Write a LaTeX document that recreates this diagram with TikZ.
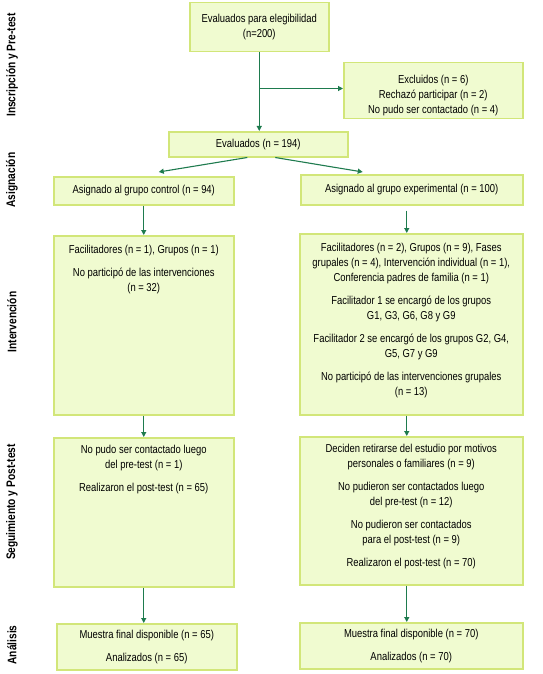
\documentclass[tikz,border=0pt]{standalone}
\usepackage{fontspec}
\setmainfont{Liberation Sans}[FakeStretch=0.82]
\usetikzlibrary{arrows.meta}

\definecolor{boxfill}{HTML}{F0FBD0}
\definecolor{boxline}{HTML}{D2E679}
\definecolor{flowgreen}{HTML}{1E7B4E}

% text of a box: centred, or hung from the top
\newcommand{\midtext}[3]{\parbox[c][#2][c]{#1}{\centering #3}}
\newcommand{\toptext}[4]{\parbox[c][#2][t]{#1}{\centering\vspace*{#3}#4}}
\newcommand{\nextpar}{\par\vspace{8pt}}

\tikzset{
  box/.style={draw=boxline, fill=boxfill, line width=1.5pt, inner sep=0pt, anchor=north west},
  flow/.style={draw=flowgreen, line width=1.1pt, -{Triangle[length=5pt,width=5pt]}},
  phase/.style={rotate=90, font=\fontsize{12.4}{14}\selectfont\bfseries}
}

\begin{document}
\begin{tikzpicture}[x=1pt, y=-1pt, font=\fontsize{11.5}{15}\selectfont]
		\useasboundingbox (0,0) rectangle (542,674);

		% enrolment
		\node[box] (eleg) at (189,2)
		{\midtext{139pt}{49pt}{Evaluados para elegibilidad\\(n=200)}};

		\node[box] (excl) at (343,62)
		{\toptext{179pt}{56pt}{12.5pt}{Excluidos (n = 6)\\Rechazó participar (n = 2)\\No pudo ser contactado (n = 4)}};

		\node[box] (eval) at (168,131)
		{\midtext{179pt}{25pt}{Evaluados (n = 194)}};

		% allocation
		\node[box] (ctrl_a) at (53,176)
		{\midtext{180pt}{28pt}{Asignado al grupo control (n = 94)}};

		\node[box] (exp_a) at (300,174)
		{\midtext{222pt}{30pt}{Asignado al grupo experimental (n = 100)}};

		% intervention
		\node[box] (ctrl_i) at (53,235)
		{\toptext{180pt}{179pt}{9.5pt}{Facilitadores (n = 1), Grupos (n = 1)\nextpar
		No participó de las intervenciones\\(n = 32)}};

		\node[box] (exp_i) at (299,233)
		{\toptext{223pt}{181pt}{9.5pt}{Facilitadores (n = 2), Grupos (n = 9), Fases\\
		grupales (n = 4), Intervención individual (n = 1),\\
		Conferencia padres de familia (n = 1)\nextpar
		Facilitador 1 se encargó de los grupos\\G1, G3, G6, G8 y G9\nextpar
		Facilitador 2 se encargó de los grupos G2, G4,\\G5, G7 y G9\nextpar
		No participó de las intervenciones grupales\\(n = 13)}};

		% follow-up
		\node[box] (ctrl_s) at (53,437)
		{\toptext{180pt}{149pt}{7pt}{No pudo ser contactado luego\\del pre-test (n = 1)\nextpar
		Realizaron el post-test (n = 65)}};

		\node[box] (exp_s) at (299,436)
		{\toptext{223pt}{148pt}{7pt}{Deciden retirarse del estudio por motivos\\
		personales o familiares (n = 9)\nextpar
		No pudieron ser contactados luego\\del pre-test (n = 12)\nextpar
		No pudieron ser contactados\\para el post-test (n = 9)\nextpar
		Realizaron el post-test (n = 70)}};

		% analysis
		\node[box] (ctrl_an) at (56,623)
		{\midtext{180pt}{46pt}{Muestra final disponible (n = 65)\nextpar Analizados (n = 65)}};

		\node[box] (exp_an) at (299,622)
		{\midtext{223pt}{46pt}{Muestra final disponible (n = 70)\nextpar Analizados (n = 70)}};

		% phases
		\node[phase] (ph_ins) at (12,65) {Inscripción y Pre-test};
		\node[phase] (ph_asi) at (12,180) {Asignación};
		\node[phase] (ph_int) at (12,322) {Intervención};
		\node[phase] (ph_seg) at (12,502) {Seguimiento y Post-test};
		\node[phase] (ph_ana) at (12,645) {Análisis};

		% connectors
		\path (eleg.south) ++(0,36) coordinate (split);
		\draw[flow] (eleg.south) -- (eleg.south |- eval.north);
		\draw[flow] (split) -- (split -| excl.west);

		\draw[flow] ([xshift=-11pt]eval.south) -- ([xshift=15pt,yshift=4pt]ctrl_a.north);
		\draw[flow] ([xshift=17pt]eval.south) -- ([xshift=-49pt,yshift=2pt]exp_a.north);

		\draw[flow] (ctrl_a) -- (ctrl_i);
		\draw[flow] ([xshift=-5pt,yshift=-5pt]exp_a.south) -- ([xshift=-5pt]exp_a.south |- exp_i.north);

		\draw[flow] (ctrl_i) -- (ctrl_s);
		\draw[flow] ([xshift=-4.5pt]exp_i.south) -- ([xshift=-4.5pt]exp_s.north);

		\draw[flow] (ctrl_s.south) -- (ctrl_s.south |- ctrl_an.north);
		\draw[flow] ([xshift=-4.5pt]exp_s.south) -- ([xshift=-4.5pt]exp_s.south |- exp_an.north);
\end{tikzpicture}
\end{document}
